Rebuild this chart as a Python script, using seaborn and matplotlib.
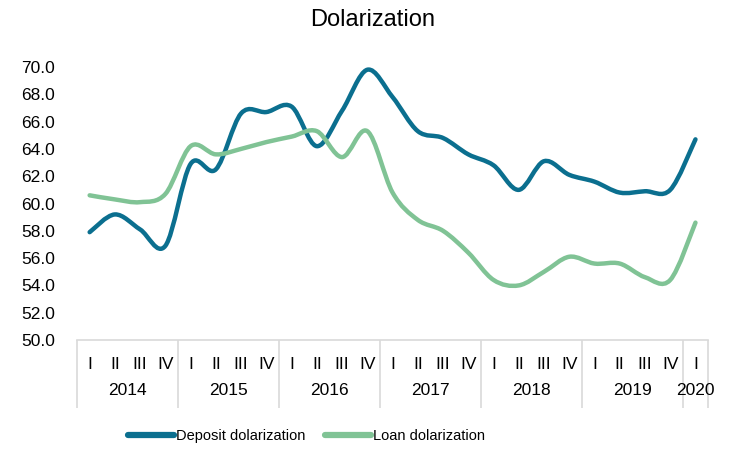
import numpy as np
import pandas as pd
import matplotlib
matplotlib.use("Agg")
import matplotlib.pyplot as plt
from matplotlib.path import Path
from matplotlib.patches import PathPatch
from matplotlib.lines import Line2D
import seaborn as sns

# Dados trimestrais (2014 T1 - 2020 T1)
TRIMESTRES = ["I", "II", "III", "IV"] * 6 + ["I"]
ANOS = ["2014", "2015", "2016", "2017", "2018", "2019", "2020"]
DEPOSITOS = [57.9, 59.2, 58.1, 56.9, 62.9, 62.5, 66.6, 66.7, 67.1, 64.2, 66.8, 69.8,
             67.8, 65.3, 64.8, 63.6, 62.8, 61.0, 63.1, 62.1, 61.6, 60.8, 60.9, 61.0, 64.7]
EMPRESTIMOS = [60.6, 60.3, 60.1, 60.7, 64.2, 63.6, 64.0, 64.5, 64.9, 65.3, 63.4, 65.3,
               60.8, 58.8, 58.0, 56.4, 54.4, 54.0, 55.0, 56.1, 55.6, 55.6, 54.6, 54.4, 58.6]

COR_DEP = "#0b6f8f"
COR_EMP = "#80c395"
COR_GRADE = "#d9d9d9"
FONTE = 12.5


def caminho_suave(xs, ys):
    """Curva de Bezier que passa pelos pontos (suavização estilo Excel)."""
    pts = np.column_stack([xs, ys])
    n = len(pts)
    verts = [pts[0]]
    codes = [Path.MOVETO]
    for i in range(n - 1):
        p0 = pts[max(i - 1, 0)]
        p1 = pts[i]
        p2 = pts[i + 1]
        p3 = pts[min(i + 2, n - 1)]
        c1 = p1 + (p2 - p0) / 6
        c2 = p2 - (p3 - p1) / 6
        verts += [c1, c2, p2]
        codes += [Path.CURVE4] * 3
    return Path(verts, codes)


df = pd.DataFrame({"pos": np.arange(len(TRIMESTRES)),
                   "dep": DEPOSITOS, "emp": EMPRESTIMOS})

sns.set_theme(style="white")
plt.rcParams["font.family"] = ["Liberation Sans", "DejaVu Sans"]
plt.rcParams["text.color"] = "black"
plt.rcParams["xtick.color"] = "black"
plt.rcParams["ytick.color"] = "black"

fig = plt.figure(figsize=(7.3, 4.5), dpi=100)
ax = fig.add_axes([0.1055, 0.2444, 0.8645, 0.6067])

sns.lineplot(data=df, x="pos", y="dep", color=COR_DEP, ax=ax)
sns.lineplot(data=df, x="pos", y="emp", color=COR_EMP, ax=ax)

# troca as linhas retas por curvas suaves
for linha in list(ax.lines):
    xy = linha.get_xydata()
    patch = PathPatch(caminho_suave(xy[:, 0], xy[:, 1]), facecolor="none",
                      edgecolor=linha.get_color(), lw=3.2, capstyle="round",
                      joinstyle="round")
    ax.add_patch(patch)
    linha.set_visible(False)

ax.set_xlim(-0.5, len(TRIMESTRES) - 0.5)
ax.set_ylim(50, 70)
ax.set_yticks(np.arange(50, 70.1, 2))
ax.set_yticklabels([f"{v:.1f}" for v in np.arange(50, 70.1, 2)])
ax.set_xlabel("")
ax.set_ylabel("")

for lado in ["top", "right", "left"]:
    ax.spines[lado].set_visible(False)
ax.spines["bottom"].set_color(COR_GRADE)
ax.spines["bottom"].set_linewidth(1.2)

ax.set_xticks(df["pos"])
ax.set_xticklabels(TRIMESTRES)
ax.tick_params(axis="x", which="major", length=0, pad=12, labelsize=FONTE,
               labelcolor="black")
ax.tick_params(axis="y", length=0, pad=16, labelsize=FONTE, labelcolor="black")

# separadores dos anos
limites = [-0.5] + [3.5 + 4 * k for k in range(6)] + [len(TRIMESTRES) - 0.5]
ax.set_xticks(limites, minor=True)
ax.tick_params(axis="x", which="minor", length=49, width=1.2, color=COR_GRADE,
               direction="out", bottom=True)

centros = [1.5 + 4 * k for k in range(6)] + [24]
for c, ano in zip(centros, ANOS):
    ax.text(c, -0.185, ano, transform=ax.get_xaxis_transform(), ha="center",
            va="center", fontsize=FONTE, color="black")

fig.suptitle("Dolarization", x=0.51, y=0.955, fontsize=17, va="center",
             color="black")

handles = [Line2D([], [], color=COR_DEP, lw=4.5),
           Line2D([], [], color=COR_EMP, lw=4.5)]
fig.legend(handles, ["Deposit dolarization", "Loan dolarization"],
           loc="center", bbox_to_anchor=(0.42, 0.031), ncol=2, frameon=False,
           fontsize=10.5, handlelength=3.1, handletextpad=0.15, columnspacing=1.4,
           labelcolor="black")

fig.savefig("out.png", dpi=100)
